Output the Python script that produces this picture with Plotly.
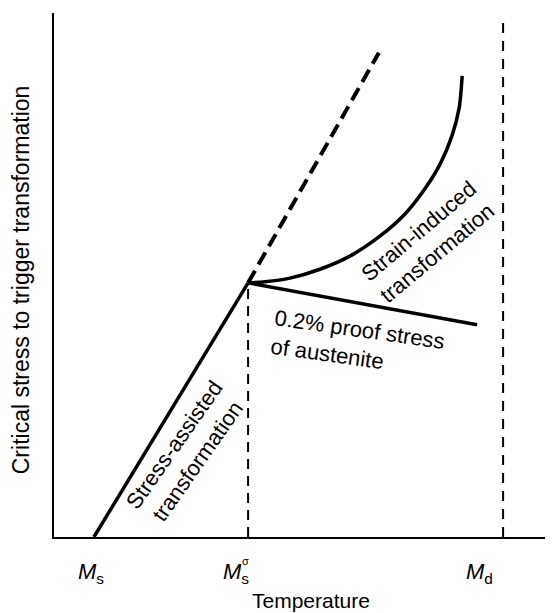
import plotly.graph_objects as go

# Characteristic temperatures (arbitrary temperature units)
ms = 8.0
ms_sigma = 38.9
md = 90.0

# Critical stress values (arbitrary units, axis 0..100)
peak_stress = 48.5

# Stress-assisted line (solid) from Ms to Ms-sigma
assist_x = [ms, ms_sigma]
assist_y = [0.0, peak_stress]

# Dashed extrapolation of stress-assisted line
extrap_x = [ms_sigma, 65.1]
extrap_y = [peak_stress, 92.4]

# 0.2% proof stress of austenite
proof_x = [ms_sigma, 84.8]
proof_y = [peak_stress, 40.5]

# Strain-induced transformation curve
strain_x = [38.9, 42.3, 47.3, 53.3, 59.3, 65.3, 70.3, 74.3, 77.4, 79.8, 81.2, 81.8]
strain_y = [48.5, 48.7, 49.4, 51.1, 53.6, 57.4, 61.6, 66.4, 71.2, 76.7, 81.9, 88.0]

# Vertical marker lines
vline_sigma_y = [0.0, peak_stress]
vline_md_y = [0.0, 98.7]

tick_positions = [ms, ms_sigma, md]
tick_shifts = [-3, -12, -24]

FONT = "Liberation Sans, Arial, sans-serif"

fig = go.Figure()

fig.add_trace(go.Scatter(x=assist_x, y=assist_y, mode="lines",
                         line=dict(color="black", width=3.5)))
fig.add_trace(go.Scatter(x=extrap_x, y=extrap_y, mode="lines",
                         line=dict(color="black", width=4, dash="14px,7px")))
fig.add_trace(go.Scatter(x=proof_x, y=proof_y, mode="lines",
                         line=dict(color="black", width=3.5)))
fig.add_trace(go.Scatter(x=strain_x, y=strain_y, mode="lines",
                         line=dict(color="black", width=3.5, shape="spline", smoothing=0.8)))
fig.add_trace(go.Scatter(x=[ms_sigma, ms_sigma], y=vline_sigma_y, mode="lines",
                         line=dict(color="black", width=2, dash="10px,7px")))
fig.add_trace(go.Scatter(x=[md, md], y=vline_md_y, mode="lines",
                         line=dict(color="black", width=2, dash="10px,8px")))

annotations = []
# tick labels
labels = ["<i>M</i><sub>s</sub>", "<i>M</i><sub>s</sub>", "<i>M</i><sub>d</sub>"]
for xv, lab, sh in zip(tick_positions, labels, tick_shifts):
    annotations.append(dict(x=xv, y=0, xref="x", yref="y", text=lab, showarrow=False,
                            xshift=sh, yshift=-36, font=dict(size=22, color="black", family=FONT)))
# sigma superscript stacked above the s
annotations.append(dict(x=ms_sigma, y=0, xref="x", yref="y", text="σ", showarrow=False,
                        xshift=-3, yshift=-24, font=dict(size=11, color="black", family=FONT)))

annotations.append(dict(x=0, y=0, xref="paper", yref="paper", text="Temperature",
                        showarrow=False, font=dict(size=21, color="black", family=FONT),
                        xanchor="center", yanchor="middle", xshift=257, yshift=-63))
annotations.append(dict(x=0, y=0.49, xref="paper", yref="paper",
                        text="Critical stress to trigger transformation",
                        showarrow=False, textangle=-90, xanchor="center", yanchor="middle",
                        xshift=-33,
                        font=dict(size=23, color="black", family=FONT)))

annotations.append(dict(x=26.5, y=16.0, xref="x", yref="y",
                        text="Stress-assisted<br>transformation", showarrow=False,
                        textangle=-55, font=dict(size=22, color="black", family=FONT)))
annotations.append(dict(x=60.9, y=36.8, xref="x", yref="y",
                        text="0.2% proof stress<br>of austenite", showarrow=False, align="left",
                        textangle=8, font=dict(size=22, color="black", family=FONT)))
annotations.append(dict(x=75.0, y=56.3, xref="x", yref="y",
                        text="Strain-induced<br>transformation", showarrow=False,
                        textangle=-40, font=dict(size=22, color="black", family=FONT)))

fig.update_layout(
    width=537, height=605,
    margin=dict(l=46, r=0, t=5, b=76),
    paper_bgcolor="white", plot_bgcolor="white",
    showlegend=False,
    annotations=annotations,
    xaxis=dict(range=[0, 98.4], showline=True, linecolor="black", linewidth=2,
               showgrid=False, zeroline=False, showticklabels=False, ticks=""),
    yaxis=dict(range=[0, 100], showline=True, linecolor="black", linewidth=2,
               showgrid=False, zeroline=False, showticklabels=False, ticks=""),
)

fig.write_html("out.html")
